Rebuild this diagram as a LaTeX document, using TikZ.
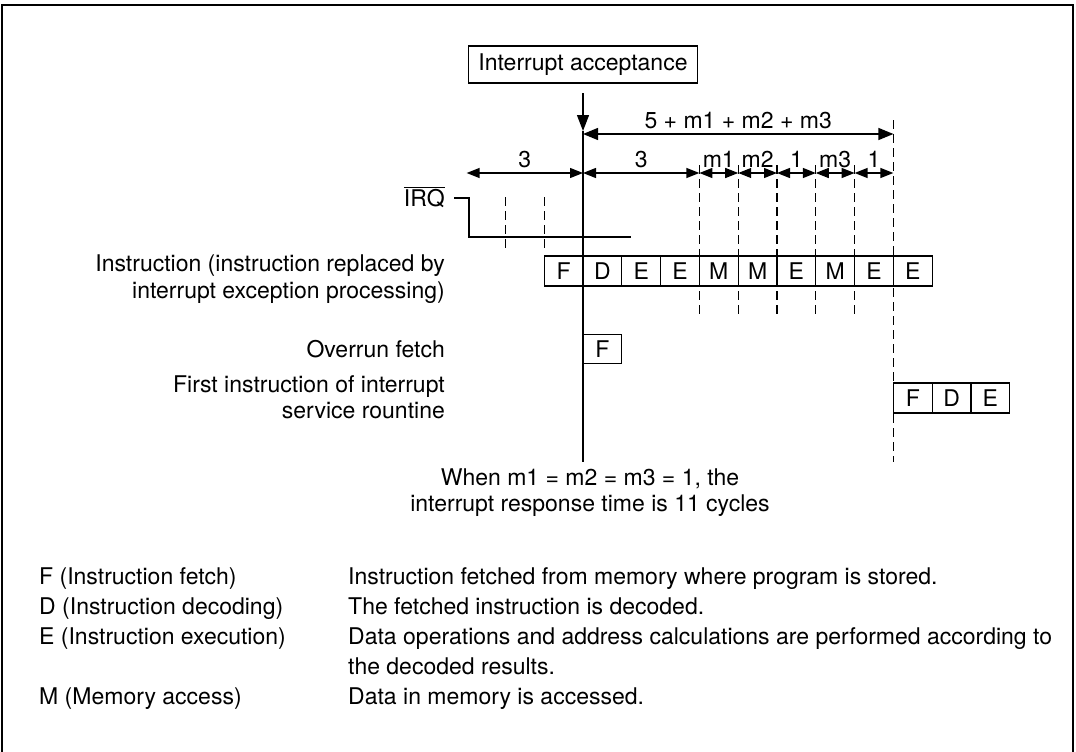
\documentclass[tikz,border=0pt]{standalone}
\usepackage{fontspec}
\setmainfont{TeX Gyre Heros}
\usetikzlibrary{arrows.meta}
\begin{document}
\begin{tikzpicture}[x=1pt,y=-1pt,
  txt/.style={font=\fontsize{23}{27}\selectfont, inner sep=0pt},
  cell/.style={draw, line width=1.3pt, minimum width=38.8pt, minimum height=30pt, inner sep=0pt, font=\fontsize{23}{27}\selectfont},
  dim/.style={{Triangle[length=13pt,width=10pt]}-{Triangle[length=13pt,width=10pt]}, line width=1.3pt},
  tick/.style={dash pattern=on 9pt off 5pt, line width=1.3pt},
  lab/.style={txt, above=5pt}]
\def\c{38.8}
\useasboundingbox (0,0) rectangle (1076,752);
% frame
\draw[line width=1.3pt] (2,752) -- (2,5) -- (1073,5) -- (1073,752);
% interrupt acceptance
\node[draw, line width=1.3pt, minimum width=229pt, minimum height=37pt, inner sep=0pt, font=\fontsize{23}{27}\selectfont] (acc) at (583,64.5) {Interrupt acceptance};
\coordinate (vtop) at (583,93);
\coordinate (vhead) at (583,131);
\coordinate (vbot) at (583,462);
\draw[line width=1.3pt, -{Triangle[length=16pt,width=12pt]}] (vtop) -- (vhead);
\draw[line width=1.3pt] (vhead) -- (vbot);
% dashed ticks
\foreach \k in {3,...,7} \draw[tick] ({583+\k*\c},165) -- ({583+\k*\c},317);
\draw[tick] ({583+8*\c},120) -- ({583+8*\c},462);
\foreach \k in {1,2} \draw[tick] ({583-\k*\c},197) -- ({583-\k*\c},250);
% dimension coordinates
\foreach \k/\n in {-3/a,0/b,3/c,4/d,5/e,6/f,7/g,8/h} \coordinate (d\n) at ({583+\k*\c},173);
\coordinate (Ba) at (583,134);
\coordinate (Bb) at ({583+8*\c},134);
\draw[dim, {Triangle[length=15pt,width=12pt]}-{Triangle[length=15pt,width=12pt]}] (Ba) -- node[lab] {5 + m1 + m2 + m3} (Bb);
\draw[dim] (da) -- node[lab] {3} (db);
\draw[dim] (db) -- node[lab] {3} (dc);
\draw[dim] (dc) -- node[lab] {m1} (dd);
\draw[dim] (dd) -- node[lab] {m2} (de);
\draw[dim] (de) -- node[lab] {1} (df);
\draw[dim] (df) -- node[lab] {m3} (dg);
\draw[dim] (dg) -- node[lab] {1} (dh);
% IRQ
\node[txt, anchor=base east] (irq) at (445,206) {$\overline{\mbox{IRQ}}$};
\coordinate (q0) at (454,198);
\coordinate (q1) at (469,198);
\coordinate (q2) at (469,237);
\coordinate (q3) at (631,237);
\draw[line width=1.3pt] (q0) -- (q1) -- (q2) -- (q3);
% instruction cells
\foreach \l [count=\i from 0] in {F,D,E,E,M,M,E,M,E,E}
  \node[cell] (i\i) at ({583+(\i-0.5)*\c},271) {\l};
\node[cell, minimum height=29pt] (of) at ({583+0.5*\c},349) {F};
\foreach \l [count=\i from 0] in {F,D,E}
  \node[cell] (s\i) at ({583+(8.5+\i)*\c},398) {\l};
% left labels
\node[txt, anchor=base east] (l1) at (445,271) {Instruction (instruction replaced by};
\node[txt, anchor=base east] (l2) at (445,298) {interrupt exception processing)};
\node[txt, anchor=base east] (l3) at (445,357) {Overrun fetch};
\node[txt, anchor=base east] (l4) at (445,392) {First instruction of interrupt};
\node[txt, anchor=base east] (l5) at (445,418) {service rountine};
% note
\node[txt, anchor=base] (n1) at (590,485) {When m1 = m2 = m3 = 1, the};
\node[txt, anchor=base] (n2) at (590,511) {interrupt response time is 11 cycles};
% legend
\node[txt, anchor=base west] (kF) at (39,584) {F (Instruction fetch)};
\node[txt, anchor=base west] (kD) at (39,614) {D (Instruction decoding)};
\node[txt, anchor=base west] (kE) at (39,644) {E (Instruction execution)};
\node[txt, anchor=base west] (kM) at (39,704) {M (Memory access)};
\node[txt, anchor=base west] (tF) at (348,584) {Instruction fetched from memory where program is stored.};
\node[txt, anchor=base west] (tD) at (348,614) {The fetched instruction is decoded.};
\node[txt, anchor=base west] (tE) at (348,644) {Data operations and address calculations are performed according to};
\node[txt, anchor=base west] (tE2) at (348,674) {the decoded results.};
\node[txt, anchor=base west] (tM) at (348,704) {Data in memory is accessed.};
\end{tikzpicture}
\end{document}
